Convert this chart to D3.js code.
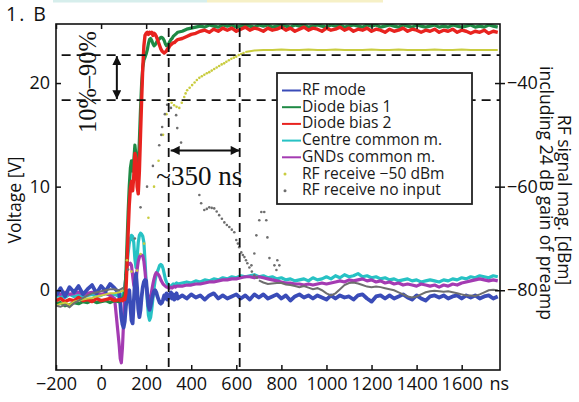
<!DOCTYPE html>
<html>
<head>
<meta charset="utf-8">
<title>1.B switching transient</title>
<script src="https://d3js.org/d3.v7.min.js"></script>
<style>
  body { margin: 0; padding: 0; background: #fff; }
  svg { font-family: "Open Sans", sans-serif; }
  .tick text { font-size: 18px; fill: #111; }
  .tick line { stroke: #111; stroke-width: 1.5; }
</style>
</head>
<body>
<script>
// sample times [ns] shared by the five voltage traces
var times = [
  -200, -180, -160, -140, -120, -100, -80, -60, -40, -20, 0, 20, 40, 60, 80,
  85, 90, 95, 100, 105, 110, 115, 120, 125, 130, 135, 140, 145, 150, 155, 160, 165, 170, 175, 180,
  185, 190, 195, 200, 205, 210, 215, 220, 225, 230, 235, 240, 245, 250, 255, 260, 265, 270, 275, 280,
  285, 290, 295, 300, 305, 310, 315, 320, 325, 330, 335, 340,
  360, 380, 400, 420, 440, 460, 480, 500, 520, 540,
  560, 580, 600, 620, 640, 660, 680, 700, 720, 740,
  760, 780, 800, 820, 840, 860, 880, 900, 920, 940,
  960, 980, 1000, 1020, 1040, 1060, 1080, 1100, 1120, 1140,
  1160, 1180, 1200, 1220, 1240, 1260, 1280, 1300, 1320, 1340,
  1360, 1380, 1400, 1420, 1440, 1460, 1480, 1500, 1520, 1540,
  1560, 1580, 1600, 1620, 1640, 1660, 1680, 1700, 1720, 1740, 1760
];

// voltages [V]
var rfMode = [
  -0.5, 0.2, -0.6, 0.3, -0.2, 0.4, -0.4, 0.1, 0.5, -0.3, 0.4, -0.1, 0.6, 0.2, -0.3,
  -1.2, -2.6, -3.3, -3.6, -3.0, -1.6, -0.6, -0.1, 0.0, -1.5, -2.9, -3.2, -1.2, 0.8, 1.6, 0.2, -1.8, -2.6, -1.9, -0.6,
  0.3, 0.8, 1.0, 0.9, -0.4, -1.5, -1.9, -1.5, -0.9, -0.4, -0.1, 0.0, -0.2, -0.6, -0.9, -1.2, -1.3, -1.2, -0.9, -0.5,
  -0.8, -0.3, -0.9, -0.4, -0.7, -0.2, -0.8, -0.4, -0.9, -0.5, -0.3, -0.8,
  -0.5, -0.8, -0.4, -0.7, -0.5, -0.9, -0.5, -0.3, -0.8, -0.5,
  -0.8, -0.6, -0.4, -0.8, -0.5, -0.9, -0.4, -0.7, -0.4, -0.8,
  -0.6, -0.4, -0.8, -0.5, -1.0, -0.6, -0.4, -0.7, -0.5, -0.8,
  -0.5, -0.7, -0.9, -0.5, -0.8, -0.5, -0.7, -0.6, -0.9, -0.5,
  -0.4, -0.8, -1.1, -0.6, -0.5, -0.8, -0.5, -0.8, -0.6, -0.4,
  -0.7, -0.9, -0.5, -0.8, -1.0, -0.6, -0.5, -0.7, -0.5, -0.8,
  -0.6, -0.5, -0.8, -0.5, -0.7, -0.5, -0.8, -0.6, -0.5, -0.8, -0.6
];
var diodeBias1 = [
  -1.3, -1.2, -1.5, -1.4, -1.2, -1.3, -1.1, -1.2, -1.0, -1.2, -1.1, -1.0, -1.2, -1.0, -1.1,
  -1.0, -0.8, -0.9, -0.6, -0.2, 1.5, 4.5, 7.5, 10.0, 11.8, 12.5, 11.5, 12.5, 14.0, 13.0, 11.5, 12.0, 14.5, 17.5, 20.0,
  21.5, 22.2, 22.5, 22.8, 23.2, 23.8, 24.2, 24.3, 24.1, 23.8, 23.6, 23.7, 23.9, 24.1, 24.2, 24.3, 24.4, 24.4, 24.3, 24.1,
  23.8, 23.6, 23.6, 23.8, 24.0, 24.2, 24.3, 24.5, 24.6, 24.7, 24.8, 24.9,
  25.0, 25.2, 25.3, 25.4, 25.5, 25.4, 25.6, 25.5, 25.4, 25.6,
  25.5, 25.6, 25.4, 25.5, 25.6, 25.5, 25.4, 25.6, 25.5, 25.6,
  25.4, 25.5, 25.6, 25.5, 25.4, 25.6, 25.5, 25.6, 25.4, 25.5,
  25.6, 25.5, 25.4, 25.6, 25.5, 25.6, 25.4, 25.5, 25.6, 25.5,
  25.4, 25.6, 25.5, 25.6, 25.4, 25.5, 25.6, 25.5, 25.4, 25.6,
  25.5, 25.4, 25.6, 25.5, 25.4, 25.5, 25.6, 25.4, 25.5, 25.4,
  25.6, 25.5, 25.4, 25.5, 25.6, 25.4, 25.5, 25.4, 25.6, 25.5, 25.4
];
var diodeBias2 = [
  -1.0, -0.8, -1.1, -0.9, -1.0, -0.7, -1.0, -0.9, -1.1, -0.8, -1.0, -0.9, -0.8, -1.0, -0.9,
  -1.0, -0.9, -1.0, -0.8, -0.9, -0.3, 2.5, 5.5, 8.2, 9.8, 10.5, 9.6, 11.0, 13.2, 12.8, 10.0, 9.3, 11.5, 15.0, 18.4,
  21.5, 23.6, 24.6, 24.8, 24.9, 24.7, 24.9, 24.8, 24.9, 24.6, 24.8, 24.7, 24.5, 24.2, 23.9, 23.6, 23.3, 23.1, 23.0, 22.9,
  23.0, 23.1, 23.3, 23.4, 23.6, 23.7, 23.8, 23.9, 23.9, 24.0, 24.1, 24.2,
  24.3, 24.5, 24.7, 24.8, 25.0, 25.1, 24.9, 25.2, 25.0, 25.3,
  25.1, 25.3, 25.0, 25.2, 25.4, 25.1, 25.3, 25.2, 25.0, 25.3,
  25.1, 25.2, 25.4, 25.1, 25.3, 25.0, 25.2, 25.4, 25.1, 25.3,
  25.2, 25.0, 25.3, 25.1, 25.2, 25.4, 25.1, 25.3, 25.0, 25.2,
  25.1, 25.3, 25.0, 25.2, 25.1, 24.9, 25.2, 25.0, 25.1, 25.3,
  25.0, 25.2, 25.1, 24.9, 25.1, 25.0, 25.2, 24.9, 25.1, 25.0,
  25.2, 24.9, 25.1, 25.0, 24.8, 25.0, 24.9, 25.1, 24.8, 25.0, 24.9
];
var centreCM = [
  -0.6, -0.5, -0.7, -0.4, -0.6, -0.5, -0.7, -0.5, -0.4, -0.6, -0.5, -0.3, -0.5, -0.4, -0.6,
  -0.5, -0.6, -0.4, -0.2, 0.3, 1.2, 2.4, 3.6, 4.5, 5.0, 5.3, 5.2, 4.6, 3.0, 2.2, 3.2, 4.6, 5.3, 5.5, 5.4,
  5.2, 4.6, 2.8, 0.8, -1.0, -2.4, -2.9, -2.6, -1.8, -0.8, 0.2, 1.0, 1.5, 1.8, 2.1, 2.4, 2.5, 2.4, 2.1, 1.6,
  1.1, 0.8, 0.6, 0.5, 0.4, 0.4, 0.5, 0.6, 0.5, 0.6, 0.7, 0.6,
  0.7, 0.8, 0.7, 0.9, 0.8, 1.0, 0.9, 1.1, 1.0, 1.2,
  1.1, 1.3, 1.2, 1.4, 1.3, 1.4, 1.5, 1.3, 1.4, 1.2,
  1.3, 1.1, 1.2, 1.0, 1.1, 0.9, 1.0, 1.1, 0.9, 1.2,
  1.0, 1.1, 1.3, 1.1, 1.4, 1.2, 1.5, 1.3, 1.4, 1.6,
  1.3, 1.4, 1.2, 1.3, 1.1, 1.2, 1.0, 1.1, 0.9, 1.0,
  1.1, 0.9, 1.0, 0.8, 0.9, 1.0, 0.9, 0.8, 1.0, 0.9,
  1.1, 1.0, 1.2, 1.1, 1.3, 1.2, 1.4, 1.3, 1.2, 1.4, 1.3
];
var gndCM = [
  -0.3, -0.4, -0.2, -0.4, -0.3, -0.2, -0.4, -0.3, -0.2, -0.3, -0.4, -0.3, -0.5, -0.8, -5.2,
  -6.6, -7.0, -5.5, -3.0, -0.5, 1.5, 2.3, 2.6, 2.5, 2.6, 2.4, 1.4, 0.5, 0.2, 0.8, 2.0, 2.8, 3.2, 3.4, 3.4,
  3.3, 2.8, 1.8, 0.6, -0.3, -0.9, -1.0, -0.6, 0.0, 0.6, 1.1, 1.5, 1.7, 1.6, 1.5, 1.3, 1.0, 0.8, 0.6, 0.5,
  0.4, 0.3, 0.3, 0.2, 0.2, 0.3, 0.2, 0.3, 0.4, 0.3, 0.4, 0.4,
  0.4, 0.5, 0.5, 0.6, 0.6, 0.7, 0.8, 0.8, 0.9, 1.0,
  1.0, 1.1, 1.1, 1.2, 1.3, 1.3, 1.2, 1.3, 1.2, 1.1,
  1.0, 0.9, 0.8, 0.7, 0.7, 0.6, 0.6, 0.5, 0.6, 0.5,
  0.6, 0.7, 0.6, 0.7, 0.8, 0.9, 0.8, 1.0, 0.9, 1.0,
  1.1, 0.9, 1.0, 0.8, 0.9, 0.7, 0.8, 0.6, 0.7, 0.5,
  0.6, 0.5, 0.4, 0.6, 0.5, 0.4, 0.5, 0.3, 0.5, 0.4,
  0.6, 0.5, 0.7, 0.8, 0.9, 1.0, 1.1, 1.0, 0.9, 1.0, 0.9
];

// RF receive -50 dBm [dBm]: densely sampled runs and sparse points
var rf50PreT = [-200, -180, -160, -140, -120, -100, -80, -60, -40, -20, 0, 20, 40, 60, 80, 100];
var rf50Pre = [-83.0, -82.6, -82.4, -82.8, -82.2, -82.0, -81.8, -81.6, -81.5, -81.2, -81.0, -80.8, -80.6, -80.6, -80.4, -80.0];
var rf50DotT = [115, 135, 160, 175, 191, 210, 235, 255, 275, 290,
  302, 313, 324, 335, 347, 358, 369, 375, 382, 393,
  404, 415, 425, 436, 447, 458, 469, 480, 491, 502,
  513, 524, 535, 546, 556, 567, 578, 589, 600, 611, 622, 632];
var rf50Dot = [-74.2, -76.4, -76.2, -73.0, -71.0, -66.0, -60.0, -55.0, -50.0, -46.0,
  -43.3, -43.8, -44.3, -44.6, -44.8, -43.8, -42.7, -42.0, -41.4, -40.9,
  -40.4, -39.9, -39.4, -39.0, -38.7, -38.4, -38.1, -37.9, -37.6, -37.3,
  -37.0, -36.7, -36.4, -36.2, -35.9, -35.6, -35.3, -35.1, -34.9, -34.6, -34.4, -34.2];
var rf50PostT = [640, 680, 720, 760, 800, 840, 880, 920, 960, 1000, 1040, 1080, 1120, 1160, 1200,
  1240, 1280, 1320, 1360, 1400, 1440, 1480, 1520, 1560, 1600, 1640, 1680, 1720, 1760];
var rf50Post = [-34.0, -33.7, -33.6, -33.6, -33.5, -33.6, -33.6, -33.5, -33.6, -33.6, -33.5, -33.6, -33.6, -33.6, -33.5,
  -33.6, -33.6, -33.5, -33.6, -33.6, -33.6, -33.5, -33.6, -33.6, -33.5, -33.6, -33.6, -33.6, -33.6];

// RF receive no input [dBm]
var rfNoPreT = [-200, -180, -160, -140, -120, -100, -80, -60, -40, -20, 0, 20, 40, 60, 80, 100];
var rfNoPre = [-83.0, -83.2, -82.8, -83.3, -82.5, -82.0, -81.5, -81.0, -80.6, -80.4, -80.2, -80.0, -79.8, -79.8, -80.0, -79.5];
var rfNoDotT = [120, 150, 175, 204, 230, 258, 267, 271, 283, 293,
  310, 333, 338, 355, 395, 436, 444, 458, 469, 480,
  491, 502, 513, 524, 536, 547, 558, 569, 580, 591,
  600, 607, 613, 622, 629, 636, 643, 649, 658, 669, 680, 691,
  667, 680, 689, 702, 711, 724, 733, 738, 747, 769, 778, 782, 791];
var rfNoDot = [-76, -70, -64, -60, -56, -52, -50, -48.5, -46, -44.2,
  -44.8, -46.2, -48.7, -51.5, -57, -61.6, -63.2, -64.5, -64.3, -64.0,
  -64.1, -64.2, -64.8, -65.5, -66.2, -66.9, -67.4, -67.8, -68.3, -68.8,
  -70.3, -71.0, -71.7, -72.7, -73.2, -73.6, -74.2, -74.8, -75.6, -76.4, -77.1, -77.6,
  -75.2, -72.9, -69.4, -66.5, -64.9, -64.9, -66.5, -69.8, -73.8, -75.2, -76.1, -74.2, -75.2];
var rfNoPostT = [700, 720, 740, 760, 780,
  800, 820, 840, 860, 880, 900, 920, 940, 960, 980,
  1000, 1020, 1040, 1060, 1080, 1100, 1120, 1140, 1160, 1180,
  1200, 1220, 1240, 1260, 1280, 1300, 1320, 1340, 1360, 1380,
  1400, 1420, 1440, 1460, 1480, 1500, 1520, 1540, 1560, 1580,
  1600, 1620, 1640, 1660, 1680, 1700, 1720, 1740, 1760];
var rfNoPost = [-78.1, -78.5, -78.8, -78.7, -78.6,
  -78.6, -78.9, -79.0, -79.2, -79.4, -79.2, -79.5, -79.8, -79.6, -80.0,
  -80.6, -81.0, -80.6, -79.8, -79.0, -78.6, -78.5, -78.7, -79.0, -79.3,
  -79.4, -79.3, -79.4, -79.6, -79.8, -80.0, -80.4, -80.8, -81.2, -81.4,
  -81.2, -80.8, -80.4, -80.2, -80.1, -80.2, -80.3, -80.2, -80.4, -80.6,
  -80.8, -81.0, -81.0, -81.1, -80.8, -80.4, -80.0, -79.9, -80.0];

var xTicks = [-200, 0, 200, 400, 600, 800, 1000, 1200, 1400, 1600];
var yTicks = [0, 10, 20];
var yRTicks = [-40, -60, -80];

// 10% / 90% levels [dBm] and the times they are crossed [ns]
var levels = [-34.6, -43.3];
var crossings = [300, 615];

var legendNames = ["RF mode", "Diode bias 1", "Diode bias 2", "Centre common m.",
  "GNDs common m.", "RF receive \u221250 dBm", "RF receive no input"];
var colors = ["#3a4cb8", "#1f8a45", "#e8231f", "#27c2c4", "#a43bb2", "#c9cc3f", "#6e6e6e"];

var w = 579, h = 402;
var x = d3.scaleLinear().domain([-200, 1770]).range([56, 500]);
var y = d3.scaleLinear().domain([-7.7, 25.7]).range([370, 24]);
var yR = d3.scaleLinear().domain([-95.4, -28.6]).range([370, 24]);
var fmt = d3.format("d");

var svg = d3.select("body").append("svg")
  .attr("width", w)
  .attr("height", h);

// strips left over from the neighbouring panel
svg.append("rect").attr("x", 53).attr("y", 0).attr("width", 154).attr("height", 2.5).attr("fill", "#d6eeec");
svg.append("rect").attr("x", 207).attr("y", 0).attr("width", 176).attr("height", 2.5).attr("fill", "#f6f0c6");

svg.append("text")
  .attr("x", 6).attr("y", 21)
  .attr("font-size", 19.5).attr("letter-spacing", 2)
  .attr("fill", "#111")
  .text("1. B");

svg.append("clipPath").attr("id", "plotclip")
  .append("rect").attr("x", 56).attr("y", 24).attr("width", 444).attr("height", 346);

var plot = svg.append("g").attr("clip-path", "url(#plotclip)");

var vline = d3.line()
  .x(function(d, i) { return x(times[i]); })
  .y(function(d) { return y(d); });

function trace(values, color, width) {
  plot.append("path")
    .datum(values)
    .attr("d", vline)
    .attr("fill", "none")
    .attr("stroke", color)
    .attr("stroke-width", width)
    .attr("stroke-linejoin", "round");
}

function solidRun(ts, vs, color) {
  plot.append("path")
    .datum(d3.zip(ts, vs))
    .attr("d", d3.line().x(function(d) { return x(d[0]); }).y(function(d) { return yR(d[1]); }))
    .attr("fill", "none")
    .attr("stroke", color)
    .attr("stroke-width", 2);
}

function dots(ts, vs, color) {
  plot.selectAll(null)
    .data(d3.zip(ts, vs))
    .enter().append("circle")
    .attr("cx", function(d) { return x(d[0]); })
    .attr("cy", function(d) { return yR(d[1]); })
    .attr("r", 1.3)
    .attr("fill", color);
}

trace(centreCM, colors[3], 3.2);
trace(gndCM, colors[4], 3.2);
trace(rfMode, colors[0], 3.8);
trace(diodeBias1, colors[1], 3.2);
trace(diodeBias2, colors[2], 3.4);

solidRun(rf50PreT, rf50Pre, colors[5]);
solidRun(rf50PostT, rf50Post, colors[5]);
dots(rf50DotT, rf50Dot, colors[5]);

solidRun(rfNoPreT, rfNoPre, colors[6]);
solidRun(rfNoPostT, rfNoPost, colors[6]);
dots(rfNoDotT, rfNoDot, colors[6]);

// dashed guides
svg.selectAll(".hguide")
  .data(levels)
  .enter().append("line")
  .attr("x1", x(-175)).attr("x2", 500)
  .attr("y1", function(d) { return yR(d); })
  .attr("y2", function(d) { return yR(d); })
  .attr("stroke", "#111").attr("stroke-width", 1.8)
  .attr("stroke-dasharray", "9,6");

svg.selectAll(".vguide")
  .data(crossings)
  .enter().append("line")
  .attr("x1", function(d) { return x(d); })
  .attr("x2", function(d) { return x(d); })
  .attr("y1", 28).attr("y2", 370)
  .attr("stroke", "#111").attr("stroke-width", 1.8)
  .attr("stroke-dasharray", "9,6");

// arrows
svg.append("defs").append("marker")
  .attr("id", "head")
  .attr("viewBox", "0 0 10 10")
  .attr("refX", 10).attr("refY", 5)
  .attr("markerUnits", "userSpaceOnUse")
  .attr("markerWidth", 10).attr("markerHeight", 9)
  .attr("orient", "auto-start-reverse")
  .append("path").attr("d", "M0,0L10,5L0,10z").attr("fill", "#111");

svg.append("line")
  .attr("x1", x(70)).attr("x2", x(70))
  .attr("y1", yR(levels[0]) + 1).attr("y2", yR(levels[1]) - 1)
  .attr("stroke", "#111").attr("stroke-width", 2)
  .attr("marker-start", "url(#head)").attr("marker-end", "url(#head)");

svg.append("line")
  .attr("x1", x(crossings[0]) + 2).attr("x2", x(crossings[1]))
  .attr("y1", y(13.5)).attr("y2", y(13.5))
  .attr("stroke", "#111").attr("stroke-width", 2)
  .attr("marker-start", "url(#head)").attr("marker-end", "url(#head)");

svg.append("text")
  .attr("transform", "translate(" + x(-22) + "," + y(20.1) + ") rotate(-90)")
  .attr("text-anchor", "middle")
  .attr("font-family", "'Liberation Serif', serif")
  .attr("font-size", 24.5)
  .attr("fill", "#111")
  .text("10%\u201390%");

svg.append("text")
  .attr("x", x(245)).attr("y", y(10.2))
  .attr("font-family", "'Liberation Serif', serif")
  .attr("font-size", 27)
  .attr("fill", "#111")
  .text("~350 ns");

// axes
var gx = svg.append("g")
  .attr("transform", "translate(0,370)")
  .call(d3.axisBottom(x).tickValues(xTicks).tickSize(-5).tickPadding(7).tickFormat(fmt));
gx.select(".domain").remove();

var gt = svg.append("g")
  .attr("transform", "translate(0,24)")
  .call(d3.axisTop(x).tickValues(xTicks).tickSize(-5).tickFormat(""));
gt.select(".domain").remove();

var gy = svg.append("g")
  .attr("transform", "translate(56,0)")
  .call(d3.axisLeft(y).tickValues(yTicks).tickSize(-5).tickPadding(6).tickFormat(fmt));
gy.select(".domain").remove();

var gr = svg.append("g")
  .attr("transform", "translate(500,0)")
  .call(d3.axisRight(yR).tickValues(yRTicks).tickSize(5).tickPadding(2).tickFormat(fmt));
gr.select(".domain").remove();
gr.selectAll(".tick line").attr("x1", -5);

svg.selectAll(".tick text").attr("font-family", "'Open Sans', sans-serif");

svg.append("text")
  .attr("x", 509).attr("y", 390)
  .attr("text-anchor", "end")
  .attr("font-size", 18).attr("fill", "#111")
  .text("ns");

svg.append("rect")
  .attr("x", 56).attr("y", 24).attr("width", 444).attr("height", 346)
  .attr("fill", "none").attr("stroke", "#111").attr("stroke-width", 1.6);

svg.append("text")
  .attr("transform", "translate(21,200) rotate(-90)")
  .attr("text-anchor", "middle")
  .attr("font-size", 17.5).attr("fill", "#111")
  .text("Voltage [V]");

svg.append("text")
  .attr("transform", "translate(558,200) rotate(90)")
  .attr("text-anchor", "middle")
  .attr("font-size", 17.5).attr("fill", "#111")
  .text("RF signal mag. [dBm]");

svg.append("text")
  .attr("transform", "translate(540,193) rotate(90)")
  .attr("text-anchor", "middle")
  .attr("font-size", 17.5).attr("fill", "#111")
  .text("including 24 dB gain of preamp");

// legend
var lg = svg.append("g");
lg.append("rect")
  .attr("x", 277).attr("y", 73).attr("width", 195).attr("height", 131)
  .attr("fill", "#fff").attr("stroke", "#222").attr("stroke-width", 1.8);

var rows = lg.selectAll(".row")
  .data(legendNames)
  .enter().append("g")
  .attr("transform", function(d, i) { return "translate(0," + (95 + i * 16.7) + ")"; });

rows.filter(function(d, i) { return i < 5; })
  .append("line")
  .attr("x1", 282).attr("x2", 301)
  .attr("y1", -4.5).attr("y2", -4.5)
  .attr("stroke", function(d, i) { return colors[i]; })
  .attr("stroke-width", 2);

rows.filter(function(d, i) { return i >= 5; })
  .append("circle")
  .attr("cx", 285).attr("cy", -4.5).attr("r", 1.5)
  .attr("fill", function(d, i) { return colors[i + 5]; });

rows.append("text")
  .attr("x", 302)
  .attr("font-size", 15.6).attr("fill", "#1a1a1a")
  .text(function(d) { return d; });
</script>
</body>
</html>
